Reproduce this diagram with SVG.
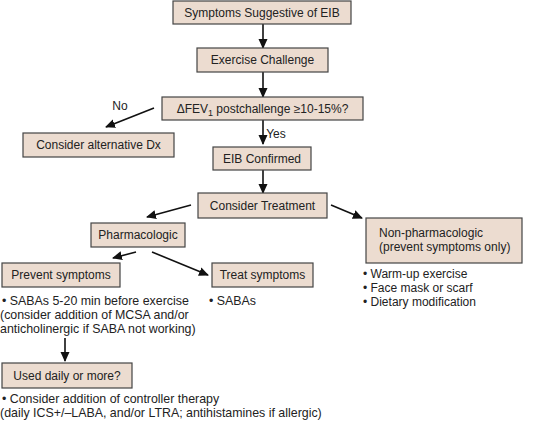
<svg xmlns="http://www.w3.org/2000/svg" width="548" height="421" viewBox="0 0 548 421">
<defs>
<marker id="ah" viewBox="0 0 10 10" refX="9" refY="5" markerWidth="10" markerHeight="10" markerUnits="userSpaceOnUse" orient="auto">
<path d="M0,0.5 L10,5 L0,9.5 Z" fill="#111"/>
</marker>
<style>
.box{fill:#ecdcd0;stroke:#444;stroke-width:1.2}
.t{font-family:"Liberation Sans",Arial,sans-serif;font-size:12px;fill:#222}
.c{text-anchor:middle}
.b{font-family:"Liberation Sans",Arial,sans-serif;font-size:12.4px;fill:#222}
.ln{stroke:#111;stroke-width:1.6;fill:none;marker-end:url(#ah)}
</style>
</defs>
<rect width="548" height="421" fill="#fff"/>
<g id="connectors">
<line class="ln" x1="263" y1="24" x2="263" y2="48"/>
<line class="ln" x1="263" y1="72" x2="263" y2="97"/>
<line class="ln" x1="154" y1="108" x2="106" y2="127"/>
<line class="ln" x1="263" y1="120" x2="263" y2="144"/>
<line class="ln" x1="263" y1="170" x2="263" y2="193"/>
<line class="ln" x1="191" y1="205" x2="147" y2="217"/>
<line class="ln" x1="331" y1="205" x2="362" y2="218"/>
<line class="ln" x1="136" y1="252" x2="113" y2="258"/>
<line class="ln" x1="152" y1="252" x2="208" y2="275"/>
<line class="ln" x1="65" y1="338" x2="65" y2="361"/>
<text class="t" x="120" y="110" text-anchor="middle">No</text>
<text class="t" x="276" y="138" text-anchor="middle">Yes</text>
</g>
<g id="n1"><rect class="box" x="173" y="1" width="178" height="23"/><text class="t c" x="262" y="17">Symptoms Suggestive of EIB</text></g>
<g id="n2"><rect class="box" x="197" y="48" width="131" height="24"/><text class="t c" x="262.5" y="64">Exercise Challenge</text></g>
<g id="n3"><rect class="box" x="162" y="97" width="201" height="23"/><text class="t c" x="262.5" y="113">ΔFEV<tspan font-size="9" dy="3">1</tspan><tspan dy="-3"> postchallenge ≥10-15%?</tspan></text></g>
<g id="n4"><rect class="box" x="23" y="133" width="151" height="24"/><text class="t c" x="98.5" y="149">Consider alternative Dx</text></g>
<g id="n5"><rect class="box" x="213" y="147" width="98" height="23"/><text class="t c" x="262" y="163">EIB Confirmed</text></g>
<g id="n6"><rect class="box" x="198" y="193" width="129" height="25"/><text class="t c" x="262.5" y="210">Consider Treatment</text></g>
<g id="n7"><rect class="box" x="91" y="223" width="94" height="24"/><text class="t c" x="138" y="239">Pharmacologic</text></g>
<g id="n8"><rect class="box" x="366" y="218" width="156" height="45"/><text class="t" x="379" y="237">Non-pharmacologic</text><text class="t" x="379" y="251">(prevent symptoms only)</text></g>
<g id="n9"><rect class="box" x="2" y="263" width="118" height="24"/><text class="t c" x="61" y="279">Prevent symptoms</text>
<text class="b" x="2" y="305">• SABAs 5-20 min before exercise</text>
<text class="b" x="0" y="319">(consider addition of MCSA and/or</text>
<text class="b" x="0" y="333">anticholinergic if SABA not working)</text></g>
<g id="n10"><rect class="box" x="212" y="263" width="101" height="24"/><text class="t c" x="262.5" y="279">Treat symptoms</text>
<text class="b" x="209" y="305">• SABAs</text></g>
<g id="n11"><text class="t" x="363" y="278">• Warm-up exercise</text><text class="t" x="363" y="292">• Face mask or scarf</text><text class="t" x="363" y="306">• Dietary modification</text></g>
<g id="n12"><rect class="box" x="2" y="363" width="130" height="25"/><text class="t c" x="67" y="380">Used daily or more?</text>
<text class="b" x="2" y="403">• Consider addition of controller therapy</text>
<text class="b" x="0" y="417">(daily ICS+/–LABA, and/or LTRA; antihistamines if allergic)</text></g>
</svg>
